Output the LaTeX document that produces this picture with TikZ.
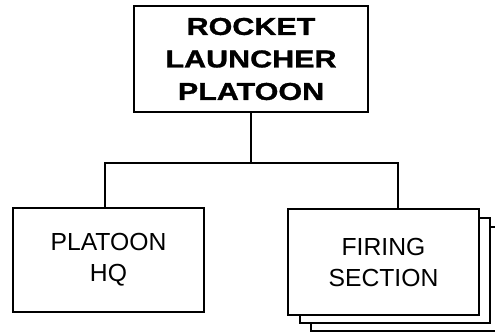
\documentclass[tikz,border=0pt]{standalone}
\usepackage{fontspec}
\setmainfont{Liberation Sans}
\newfontfamily\widebold[FakeStretch=1.25,FakeBold=1.2]{Liberation Sans Bold}
\tikzset{
  box/.style={draw=black, line width=2.2pt, fill=white, rectangle, inner sep=0pt, align=center},
  conn/.style={draw=black, line width=1.8pt},
  toptext/.style={font=\widebold\fontsize{24.4}{32.5}\selectfont},
  lowtext/.style={font=\fontsize{24.7}{31}\selectfont},
}
\begin{document}
\begin{tikzpicture}[x=1pt,y=-1pt]
\clip (0,0) rectangle (495,332);
\useasboundingbox (0,0) rectangle (495,332);
% top box
\node[box, toptext, minimum width=234pt, minimum height=106pt] (top) at (251,59) {ROCKET\\LAUNCHER\\PLATOON};
% platoon HQ
\node[box, lowtext, minimum width=191pt, minimum height=104pt] (hq) at (108.5,260) {PLATOON\\HQ};
% firing section stack
\node[box, minimum width=190pt, minimum height=104pt] (fs3) at (406,279) {};
\node[box, minimum width=190pt, minimum height=105pt] (fs2) at (395,270.5) {};
\node[box, lowtext, minimum width=191pt, minimum height=106pt] (fs) at (383.5,262) {FIRING\\SECTION};
% connectors
\draw[conn] (top.south) -- ++(0,50) coordinate (j);
\draw[conn] ([xshift=-3.5pt]hq.north) |- (j) -| ([xshift=14.5pt]fs.north);
\end{tikzpicture}
\end{document}
